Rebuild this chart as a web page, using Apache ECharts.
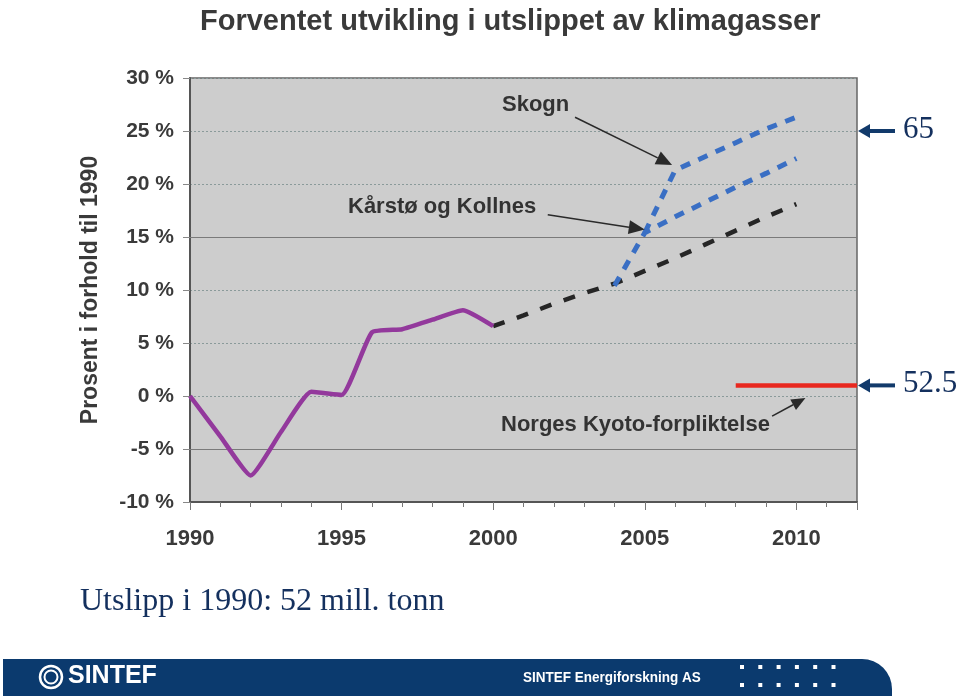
<!DOCTYPE html>
<html>
<head>
<meta charset="utf-8">
<script src="https://cdn.jsdelivr.net/npm/echarts@6/dist/echarts.min.js"></script>
<style>
html,body{margin:0;padding:0;background:#fff;}
#chart{width:960px;height:696px;}
</style>
</head>
<body>
<div id="chart"></div>
<script>
// ---- data ----
const yTicks = [-10, -5, 0, 5, 10, 15, 20, 25, 30];
const xLabels = [1990, 1995, 2000, 2005, 2010];
const histYears = [1990, 1991, 1992, 1993, 1994, 1995, 1996, 1997, 1998, 1999, 2000];
const histValues = [0, -3.8, -7.5, -3.4, 0.4, 0.1, 6.0, 6.3, 7.2, 8.1, 6.6];
const baseYears = [2000, 2001, 2002, 2003, 2004, 2005, 2006, 2007, 2008, 2009, 2010];
const baseValues = [6.6, 7.6, 8.7, 9.7, 10.6, 11.8, 13.0, 14.3, 15.6, 16.9, 18.1];
const kkYears = [2004, 2005, 2006, 2007, 2008, 2009, 2010];
const kkValues = [10.4, 15.4, 16.9, 18.3, 19.7, 21.0, 22.4];
const skYears = [2005, 2006, 2007, 2008, 2009, 2010];
const skValues = [15.4, 21.3, 22.6, 23.9, 25.2, 26.3];
const kyotoYears = [2008, 2012];
const kyotoValues = [1, 1];
const solidGrid = [15, -5];
const rightMarks = [{ value: 25, text: '65' }, { value: 1, text: '52.5' }];

const zip = (xs, ys) => xs.map((x, i) => [x, ys[i]]);
const FONT = "'Liberation Sans', Arial, sans-serif";

const chart = echarts.init(document.getElementById('chart'), null, { renderer: 'canvas' });

chart.setOption({
  animation: false,
  backgroundColor: '#ffffff',
  title: {
    text: 'Forventet utvikling i utslippet av klimagasser',
    left: 195, top: 2,
    textStyle: { fontFamily: FONT, fontWeight: 'bold', fontSize: 29, color: '#3a3a3a' }
  },
  grid: {
    left: 190, right: 103, top: 78, bottom: 194,
    show: true, backgroundColor: '#cdcdcd', borderColor: '#666', borderWidth: 1.5
  },
  xAxis: {
    type: 'value', min: 1990, max: 2012, interval: 5,
    axisLine: { show: true, onZero: false, lineStyle: { color: '#555', width: 2 } },
    axisTick: { show: true, length: 8, lineStyle: { color: '#777', width: 1 } },
    minorTick: { show: true, splitNumber: 5, length: 5, lineStyle: { color: '#777' } },
    splitLine: { show: false },
    axisLabel: {
      margin: 26, showMaxLabel: false,
      fontFamily: FONT, fontWeight: 'bold', fontSize: 22, color: '#3a3a3a',
      formatter: v => (xLabels.indexOf(v) >= 0 ? String(v) : '')
    }
  },
  yAxis: {
    type: 'value', min: -10, max: 30, interval: 5,
    name: 'Prosent i forhold til 1990', nameLocation: 'middle', nameGap: 88, nameRotate: 90,
    nameTextStyle: { fontFamily: FONT, fontWeight: 'bold', fontSize: 23, color: '#3a3a3a' },
    axisLine: { show: true, lineStyle: { color: '#555', width: 2 } },
    axisTick: { show: true, length: 7, lineStyle: { color: '#888' } },
    splitLine: { show: true, lineStyle: { color: '#8a9a9a', type: [2, 2], width: 1 } },
    axisLabel: {
      margin: 16, fontFamily: FONT, fontWeight: 'bold', fontSize: 21, color: '#3a3a3a',
      formatter: v => v + ' %'
    }
  },
  series: [
    {
      name: 'Historisk', type: 'line', data: zip(histYears, histValues),
      showSymbol: false, smooth: 0.15,
      lineStyle: { color: '#93399c', width: 4.5 }, z: 5,
      markLine: {
        silent: true, symbol: 'none', label: { show: false },
        lineStyle: { color: '#7a7a7a', type: 'solid', width: 1.2 },
        data: solidGrid.map(v => ({ yAxis: v }))
      }
    },
    {
      name: 'Basis', type: 'line', data: zip(baseYears, baseValues),
      showSymbol: false,
      lineStyle: { color: '#262626', width: 4.5, type: [12, 13] }, z: 3
    },
    {
      name: 'Kårstø og Kollnes', type: 'line', data: zip(kkYears, kkValues),
      showSymbol: false,
      lineStyle: { color: '#3a6fc4', width: 5, type: [10, 9] }, z: 4
    },
    {
      name: 'Skogn', type: 'line', data: zip(skYears, skValues),
      showSymbol: false,
      lineStyle: { color: '#3a6fc4', width: 5, type: [10, 9] }, z: 4
    },
    {
      name: 'Kyoto', type: 'line', data: zip(kyotoYears, kyotoValues),
      showSymbol: false,
      lineStyle: { color: '#e8281f', width: 4.5 }, z: 4
    }
  ]
});

// ---- annotations (positioned through the chart's own scales) ----
const px = (x, y) => chart.convertToPixel({ gridIndex: 0 }, [x, y]);

function arrow(from, to, color, width, headLen, headW) {
  const dx = to[0] - from[0], dy = to[1] - from[1];
  const L = Math.sqrt(dx * dx + dy * dy);
  const ux = dx / L, uy = dy / L;
  const bx = to[0] - ux * headLen, by = to[1] - uy * headLen;
  const nx = -uy, ny = ux;
  return [
    { type: 'line', shape: { x1: from[0], y1: from[1], x2: bx, y2: by },
      style: { stroke: color, lineWidth: width }, z: 50 },
    { type: 'polygon', shape: { points: [to, [bx + nx * headW, by + ny * headW], [bx - nx * headW, by - ny * headW]] },
      style: { fill: color }, z: 50 }
  ];
}

const g = [];
const annColor = '#333';
const annFont = "bold 22px 'Liberation Sans', Arial";
g.push({ type: 'text', left: 502, top: 94, style: { text: 'Skogn', font: annFont, fill: annColor }, z: 50 });
g.push({ type: 'text', left: 348, top: 196, style: { text: 'Kårstø og Kollnes', font: annFont, fill: annColor }, z: 50 });
g.push({ type: 'text', left: 501, top: 414, style: { text: 'Norges Kyoto-forpliktelse', font: annFont, fill: annColor }, z: 50 });
g.push(...arrow(px(2002.7, 26.3), px(2005.9, 21.8), '#2a2a2a', 1.5, 16, 7));
g.push(...arrow(px(2001.8, 17.1), px(2005.0, 15.7), '#2a2a2a', 1.5, 16, 7));
g.push(...arrow(px(2009.2, -1.9), px(2010.3, -0.2), '#2a2a2a', 1.5, 14, 6));

// right-side markers
rightMarks.forEach(m => {
  const p = px(2012, m.value);
  g.push(...arrow([p[0] + 38, p[1]], [p[0] + 1, p[1]], '#123a6b', 4, 12, 7));
  g.push({ type: 'text', left: p[0] + 46, top: p[1] - 17,
    style: { text: m.text, font: "31px 'Liberation Serif', 'Times New Roman', serif", fill: '#14305e' }, z: 50 });
});

// caption
g.push({ type: 'text', left: 80, top: 586,
  style: { text: 'Utslipp i 1990: 52 mill. tonn', font: "32px 'Liberation Serif', 'Times New Roman', serif", fill: '#14305e' }, z: 50 });

// footer band
g.push({ type: 'rect', shape: { x: 3, y: 659, width: 889, height: 37, r: [0, 30, 0, 0] },
  style: { fill: '#0b3a6e' }, z: 40 });
g.push({ type: 'circle', shape: { cx: 51, cy: 677, r: 11 }, style: { fill: 'none', stroke: '#fff', lineWidth: 2.5 }, z: 45 });
g.push({ type: 'circle', shape: { cx: 51, cy: 677, r: 6.5 }, style: { fill: 'none', stroke: '#fff', lineWidth: 2 }, z: 45 });
g.push({ type: 'text', left: 68, top: 664, style: { text: 'SINTEF', font: "bold 25px 'Liberation Sans', Arial", fill: '#fff' }, z: 45 });
g.push({ type: 'text', x: 523, y: 670, scaleX: 0.9, style: { text: 'SINTEF Energiforskning AS', font: "bold 15px 'Liberation Sans', Arial", fill: '#fff' }, z: 45 });
[667, 685].forEach(yy => {
  for (let i = 0; i < 6; i++) {
    g.push({ type: 'rect', shape: { x: 740 + i * 18.3, y: yy - 2, width: 4, height: 4 }, style: { fill: '#fff' }, z: 45 });
  }
});

chart.setOption({ graphic: g });
</script>
</body>
</html>
